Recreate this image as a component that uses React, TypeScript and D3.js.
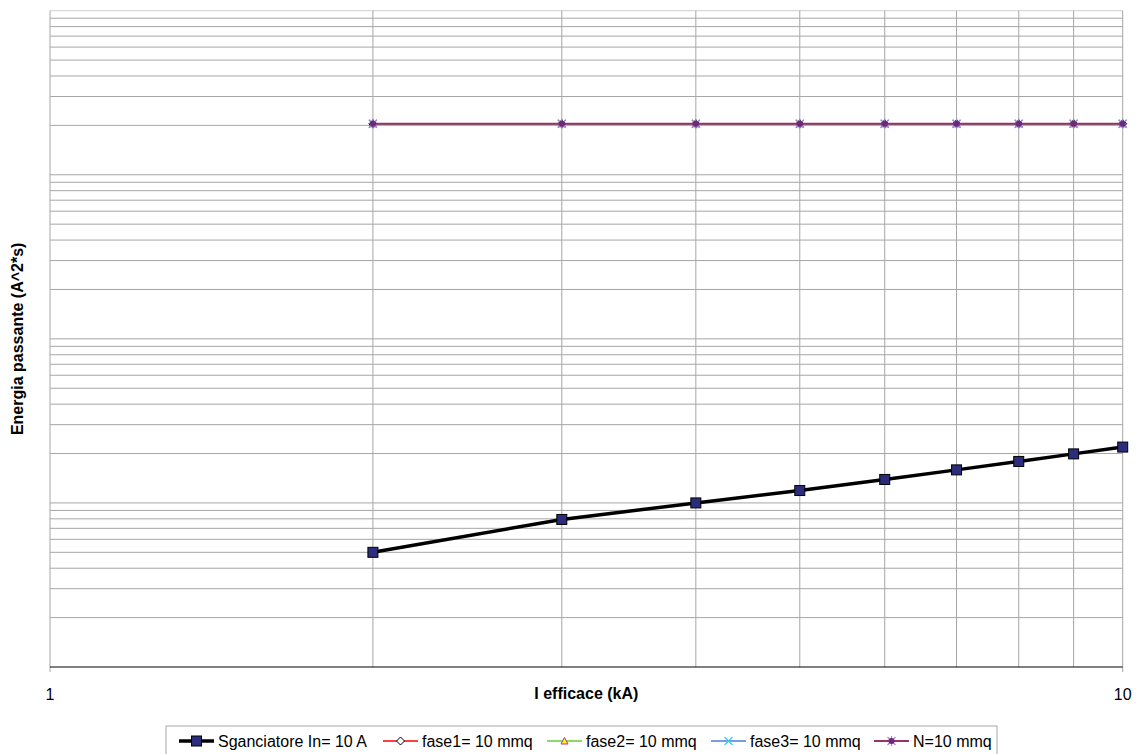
import React from "react";
import * as d3 from "d3";

const currents = [2, 3, 4, 5, 6, 7, 8, 9, 10];
const sganciatore = [5000, 7930, 10000, 11900, 13900, 15900, 17900, 19900, 21900];
const fase1 = [2.045e6, 2.045e6, 2.045e6, 2.045e6, 2.045e6, 2.045e6, 2.045e6, 2.045e6, 2.045e6];
const fase2 = [2.045e6, 2.045e6, 2.045e6, 2.045e6, 2.045e6, 2.045e6, 2.045e6, 2.045e6, 2.045e6];
const fase3 = [2.045e6, 2.045e6, 2.045e6, 2.045e6, 2.045e6, 2.045e6, 2.045e6, 2.045e6, 2.045e6];
const neutro = [2.045e6, 2.045e6, 2.045e6, 2.045e6, 2.045e6, 2.045e6, 2.045e6, 2.045e6, 2.045e6];
const seriesNames = ["Sganciatore In= 10 A", "fase1= 10 mmq", "fase2= 10 mmq", "fase3= 10 mmq", "N=10 mmq"];
const xTickLabels = ["1", "10"];
const xTitle = "I efficace (kA)";
const yTitle = "Energia passante (A^2*s)";

const W = 1136;
const H = 754;
const L = 50, R = 1122.7, T = 10.7, B = 667;

type MarkerKind = "square" | "diamond" | "triangle" | "x" | "star";
const styles: { color: string; width: number; marker: MarkerKind }[] = [
  { color: "#000000", width: 3.5, marker: "square" },
  { color: "#ff0000", width: 1.5, marker: "diamond" },
  { color: "#66cc33", width: 1.5, marker: "triangle" },
  { color: "#4a7fd6", width: 1.5, marker: "x" },
  { color: "#993366", width: 2, marker: "star" },
];

function Marker({ kind, cx, cy }: { kind: MarkerKind; cx: number; cy: number }) {
  switch (kind) {
    case "square":
      return <rect x={cx - 5} y={cy - 5} width={10} height={10} fill="#2b2d7c" stroke="#000" strokeWidth={1} />;
    case "diamond":
      return <path d={`M${cx},${cy - 4}L${cx + 4},${cy}L${cx},${cy + 4}L${cx - 4},${cy}Z`} fill="#fff" stroke="#000" strokeWidth={1} />;
    case "triangle":
      return <path d={`M${cx},${cy - 3.5}L${cx + 3.5},${cy + 3}L${cx - 3.5},${cy + 3}Z`} fill="#ffff00" stroke="#b030b0" strokeWidth={1} />;
    case "x":
      return <path d={`M${cx - 4},${cy - 4}L${cx + 4},${cy + 4}M${cx - 4},${cy + 4}L${cx + 4},${cy - 4}`} stroke="#33ccff" strokeWidth={1.2} />;
    case "star":
      return (
        <g>
          <path d={`M${cx - 4},${cy - 4}L${cx + 4},${cy + 4}M${cx - 4},${cy + 4}L${cx + 4},${cy - 4}M${cx},${cy - 5}L${cx},${cy + 5}`} stroke="#b080d0" strokeWidth={1.2} />
          <circle cx={cx} cy={cy} r={3} fill="#6a2a7a" />
        </g>
      );
  }
}

export default function App() {
  const x = d3.scaleLog().domain([1, 10]).range([L, R]);
  const y = d3.scaleLog().domain([1e3, 1e7]).range([B, T]);
  const data = [sganciatore, fase1, fase2, fase3, neutro];

  const yGrid: number[] = [];
  for (let k = 3; k <= 6; k++) for (let m = 1; m <= 9; m++) if (!(k === 3 && m === 1)) yGrid.push(m * Math.pow(10, k));
  const xGrid = [2, 3, 4, 5, 6, 7, 8, 9, 10];

  const line = d3.line<number>().x((_, i) => x(currents[i])).y((d) => y(d));

  const legendX = [179, 383, 547, 711, 874];
  const legendY = 741;
  const font = "'Liberation Sans', Arial, sans-serif";

  return (
    <svg width={W} height={H} style={{ position: "absolute", left: 0, top: 0, background: "#fff" }} fontFamily={font}>
      <rect x={0} y={0} width={W} height={H} fill="#fff" />
      {yGrid.map((v) => (
        <line key={"h" + v} x1={L} x2={R} y1={y(v)} y2={y(v)} stroke="#a6a6a6" strokeWidth={1} />
      ))}
      <line x1={L} x2={R} y1={y(1e7)} y2={y(1e7)} stroke="#cfcfcf" strokeWidth={1} />
      {xGrid.map((v) => (
        <line key={"v" + v} x1={x(v)} x2={x(v)} y1={T} y2={B} stroke="#a6a6a6" strokeWidth={1} />
      ))}
      <line x1={L} x2={L} y1={T} y2={B + 5} stroke="#a6a6a6" strokeWidth={1} />
      <line x1={R} x2={R} y1={B} y2={B + 5} stroke="#a6a6a6" strokeWidth={1} />
      <line x1={L} x2={R} y1={B} y2={B} stroke="#000" strokeWidth={1} />

      {data.map((vals, si) => (
        <g key={"s" + si}>
          <path d={line(vals) || ""} fill="none" stroke={styles[si].color} strokeWidth={styles[si].width} />
          {vals.map((v, i) => (
            <Marker key={i} kind={styles[si].marker} cx={x(currents[i])} cy={y(v)} />
          ))}
        </g>
      ))}

      {[1, 10].map((v, i) => (
        <text key={"xt" + v} x={x(v)} y={700} textAnchor="middle" fontSize={16} fill="#000">
          {xTickLabels[i]}
        </text>
      ))}
      <text x={(L + R) / 2} y={699} textAnchor="middle" fontSize={16} fontWeight="bold" fill="#000">
        {xTitle}
      </text>
      <text transform={`translate(23,${(T + B) / 2}) rotate(-90)`} textAnchor="middle" fontSize={16} fontWeight="bold" fill="#000">
        {yTitle}
      </text>

      <rect x={166} y={726} width={831} height={30} fill="#fff" stroke="#a6a6a6" strokeWidth={1} />
      {seriesNames.map((name, i) => {
        const lx = legendX[i];
        const st = styles[i];
        return (
          <g key={"lg" + i}>
            <line x1={lx} x2={lx + 35} y1={legendY} y2={legendY} stroke={st.color} strokeWidth={st.width} />
            <Marker kind={st.marker} cx={lx + 17.5} cy={legendY} />
            <text x={lx + 39} y={legendY + 6} fontSize={16} fill="#000">
              {name}
            </text>
          </g>
        );
      })}
    </svg>
  );
}
